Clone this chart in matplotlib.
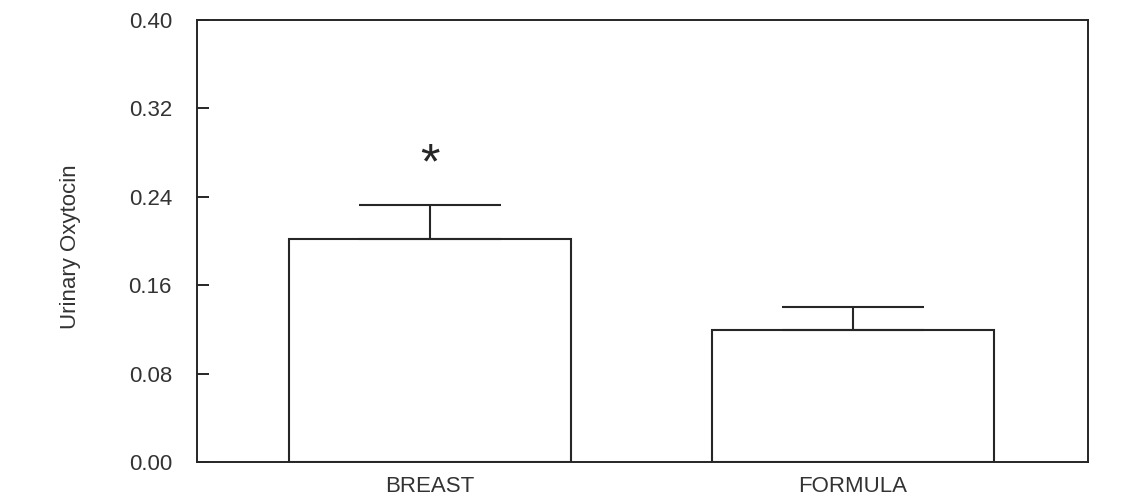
import numpy as np
import matplotlib
matplotlib.use("Agg")
import matplotlib.pyplot as plt

plt.rcParams['font.family'] = ['Liberation Sans', 'DejaVu Sans']

groups = ["BREAST", "FORMULA"]
means = [0.202, 0.1195]
sem = [0.0305, 0.021]
star_y = 0.268
yticks = [0.00, 0.08, 0.16, 0.24, 0.32, 0.40]

ink = '#262626'
txt = '#333333'

fig = plt.figure(figsize=(11.4, 4.97), dpi=100)
ax = fig.add_axes([0.1728, 0.0704, 0.9544 - 0.1728, 0.9598 - 0.0704])

x = np.arange(len(groups))
ax.bar(x, means, width=0.667, facecolor='white', edgecolor=ink, linewidth=1.5, zorder=2)
ax.errorbar(x, means, yerr=[np.zeros(len(sem)), sem], fmt='none', ecolor=ink,
            elinewidth=1.5, capsize=51, capthick=1.5, zorder=3)
ax.text(x[0], star_y, "*", ha='center', va='center', fontsize=36, color=ink)

ax.set_xlim(-0.551, 1.556)
ax.set_ylim(0, 0.40)
ax.set_yticks(yticks)
ax.set_yticklabels(["%.2f" % v for v in yticks], fontsize=16, color=txt)
ax.set_xticks(x)
ax.set_xticklabels(groups, fontsize=16, color=txt)
ax.tick_params(axis='y', direction='in', length=8.6, width=1.4, color=ink, pad=18)
ax.tick_params(axis='x', length=0, pad=10)
for s in ax.spines.values():
    s.set_color(ink)
    s.set_linewidth(1.4)

ax.set_ylabel("Urinary Oxytocin", fontsize=16, color=txt, va='center')
ax.yaxis.set_label_coords(-0.142, 0.486)

fig.savefig("out.png", dpi=100)
